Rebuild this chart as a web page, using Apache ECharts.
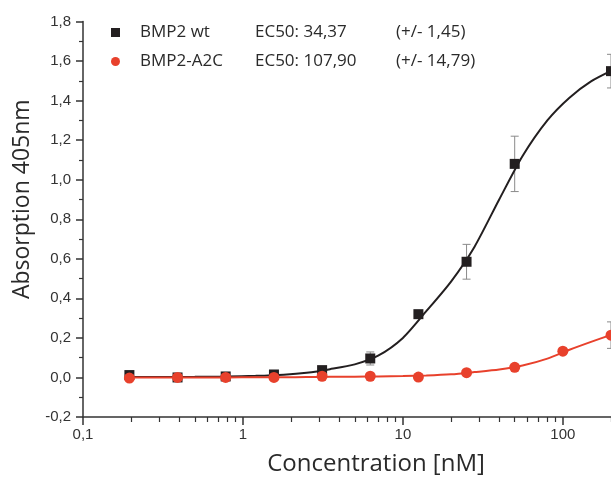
<!DOCTYPE html>
<html>
<head>
<meta charset="utf-8">
<script src="https://cdn.jsdelivr.net/npm/echarts@6/dist/echarts.min.js"></script>
<style>
html,body{margin:0;padding:0;background:#fff;}
#chart{width:611px;height:481px;}
</style>
</head>
<body>
<div id="chart"></div>
<script>
// ---- data ----
var conc      = [0.195, 0.39, 0.78, 1.5625, 3.125, 6.25, 12.5, 25, 50, 100, 200];
var wtMean    = [0.012, 0.0, 0.005, 0.015, 0.037, 0.096, 0.32, 0.585, 1.08, null, 1.549];
var wtErr     = [0.005, 0.005, 0.008, 0.005, 0.006, 0.033, 0.008, 0.088, 0.14, null, 0.085];
var a2cMean   = [-0.003, 0.0, 0.0, 0.0, 0.006, 0.006, 0.002, 0.024, 0.051, 0.133, 0.214];
var a2cErr    = [0.004, 0.004, 0.004, 0.004, 0.004, 0.004, 0.004, 0.006, 0.008, 0.006, 0.067];

// fitted curves
var fitX      = [0.195, 0.3, 0.5, 0.8, 1.2, 1.8, 2.5, 3.5, 5, 7, 10, 14, 20, 28, 40, 56, 80, 110, 150, 200];
var wtFit     = [0.002, 0.002, 0.003, 0.005, 0.008, 0.014, 0.024, 0.042, 0.066, 0.11, 0.2, 0.335, 0.485, 0.66, 0.9, 1.12, 1.30, 1.415, 1.497, 1.55];
var a2cFit    = [0.0, 0.0, 0.0, 0.0, 0.001, 0.001, 0.002, 0.003, 0.004, 0.005, 0.007, 0.01, 0.016, 0.027, 0.04, 0.06, 0.095, 0.14, 0.18, 0.215];

var seriesNames = ['BMP2 wt', 'BMP2-A2C'];
var ec50Text    = ['EC50: 34,37', 'EC50: 107,90'];
var ec50ErrText = ['(+/- 1,45)', '(+/- 14,79)'];

var xMajorTicks = [0.1, 1, 10, 100];
var xMinorTicks = [0.2,0.3,0.4,0.5,0.6,0.7,0.8,0.9,2,3,4,5,6,7,8,9,20,30,40,50,60,70,80,90,200];

var yMin = -0.2, yMax = 1.8, yStep = 0.2;
var xMin = 0.1, xMax = 200;

var BLACK = '#231f20';
var RED = '#e8412c';
var GREY = '#8a8a8a';

function pairs(xs, ys) {
  var out = [];
  for (var i = 0; i < xs.length; i++) if (ys[i] !== null) out.push([xs[i], ys[i]]);
  return out;
}
function errData(xs, m, e) {
  var out = [];
  for (var i = 0; i < xs.length; i++) if (m[i] !== null) out.push([xs[i], m[i] - e[i], m[i] + e[i]]);
  return out;
}
function errRender(params, api) {
  var x = api.value(0), lo = api.value(1), hi = api.value(2);
  var p1 = api.coord([x, hi]), p2 = api.coord([x, lo]);
  var w = 4;
  var st = { stroke: GREY, lineWidth: 1 };
  return { type: 'group', children: [
    { type: 'line', shape: { x1: p1[0], y1: p1[1], x2: p2[0], y2: p2[1] }, style: st },
    { type: 'line', shape: { x1: p1[0]-w, y1: p1[1], x2: p1[0]+w, y2: p1[1] }, style: st },
    { type: 'line', shape: { x1: p2[0]-w, y1: p2[1], x2: p2[0]+w, y2: p2[1] }, style: st }
  ]};
}
function fmtComma(v) {
  return String(v).replace('.', ',');
}

var chart = echarts.init(document.getElementById('chart'), null, { renderer: 'canvas' });
chart.setOption({
  animation: false,
  backgroundColor: '#fff',
  grid: { left: 83, right: 0, top: 21.5, bottom: 63.5, containLabel: false },
  legend: {
    orient: 'vertical',
    left: 106, top: 19,
    itemWidth: 9, itemHeight: 9,
    itemGap: 12,
    selectedMode: false,
    data: [
      { name: seriesNames[0], icon: 'rect', itemStyle: { color: BLACK, opacity: 1 } },
      { name: seriesNames[1], icon: 'circle', itemStyle: { color: RED, opacity: 1 } }
    ],
    formatter: function (name) {
      var i = seriesNames.indexOf(name);
      return '{g| }{a|' + name + '}{b|' + ec50Text[i] + '}{c|' + ec50ErrText[i] + '}';
    },
    textStyle: {
      fontFamily: 'Open Sans', fontSize: 17, color: '#2a2a2a',
      rich: {
        g: { width: 15, fontSize: 17, fontFamily: 'Open Sans' },
        a: { width: 115, fontSize: 17, fontFamily: 'Open Sans', color: '#2a2a2a' },
        b: { width: 141, fontSize: 17, fontFamily: 'Open Sans', color: '#2a2a2a' },
        c: { fontSize: 17, fontFamily: 'Open Sans', color: '#2a2a2a' }
      }
    }
  },
  xAxis: [
    {
      type: 'log', logBase: 10, min: xMin, max: xMax, position: 'bottom',
      name: 'Concentration [nM]', nameLocation: 'middle', nameGap: 35,
      nameTextStyle: { fontFamily: 'Open Sans', fontSize: 24, color: '#2a2a2a', padding: [0, 0, 0, 58] },
      axisLine: { show: true, onZero: false, lineStyle: { color: '#333', width: 1.5 } },
      axisTick: { show: true, length: 8, customValues: xMajorTicks, lineStyle: { color: '#333', width: 1.5 } },
      axisLabel: { show: true, customValues: xMajorTicks, margin: 10, fontFamily: 'Liberation Sans', fontSize: 15, color: '#333',
        formatter: function (v) { return fmtComma(v); } },
      splitLine: { show: false },
      minorTick: { show: false }, minorSplitLine: { show: false }
    },
    {
      // minor ticks, sitting on the zero of a hidden helper y axis (= bottom edge), pointing down
      type: 'log', logBase: 10, min: xMin, max: xMax,
      axisLine: { show: false, onZero: true, onZeroAxisIndex: 1 },
      axisTick: { show: true, inside: true, length: 5, customValues: xMinorTicks, lineStyle: { color: '#333', width: 1.2 } },
      axisLabel: { show: false },
      splitLine: { show: false }
    }
  ],
  yAxis: [
    {
      type: 'value', min: yMin, max: yMax, interval: yStep,
      name: 'Absorption 405nm', nameLocation: 'middle', nameGap: 38, nameRotate: 90,
      nameTextStyle: { fontFamily: 'Open Sans', fontSize: 23, color: '#2a2a2a', padding: [0, 0, 0, 40] },
      axisLine: { show: true, onZero: false, lineStyle: { color: '#333', width: 1.5 } },
      axisTick: { show: true, length: 7, lineStyle: { color: '#333', width: 1.5 } },
      minorTick: { show: true, splitNumber: 2, length: 4, lineStyle: { color: '#333', width: 1.2 } },
      axisLabel: { margin: 12, fontFamily: 'Liberation Sans', fontSize: 15, color: '#333',
        formatter: function (v) { return (Math.round(v * 10) / 10).toFixed(1).replace('.', ','); } },
      splitLine: { show: false }, minorSplitLine: { show: false }
    },
    {
      type: 'value', min: 0, max: 1, show: false
    }
  ],
  series: [
    { name: 'wtErr', type: 'custom', renderItem: errRender, data: errData(conc, wtMean, wtErr),
      encode: { x: 0, y: [1, 2] }, z: 2, silent: true },
    { name: 'wtFit', type: 'line', data: pairs(fitX, wtFit), smooth: 0.25,
      showSymbol: false, symbol: 'none', lineStyle: { color: BLACK, width: 2 }, z: 3, silent: true },
    { name: seriesNames[0], type: 'scatter', data: pairs(conc, wtMean), symbol: 'rect', symbolSize: 10,
      itemStyle: { color: BLACK, opacity: 1 }, z: 4 },
    { name: 'a2cErr', type: 'custom', renderItem: errRender, data: errData(conc, a2cMean, a2cErr),
      encode: { x: 0, y: [1, 2] }, z: 5, silent: true },
    { name: 'a2cFit', type: 'line', data: pairs(fitX, a2cFit), smooth: 0.25,
      showSymbol: false, symbol: 'none', lineStyle: { color: RED, width: 2 }, z: 6, silent: true },
    { name: seriesNames[1], type: 'scatter', data: pairs(conc, a2cMean), symbol: 'circle', symbolSize: 11,
      itemStyle: { color: RED, opacity: 1 }, z: 7 }
  ]
});
</script>
</body>
</html>
